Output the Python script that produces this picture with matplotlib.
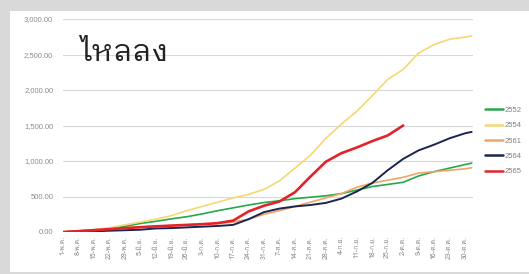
import matplotlib
matplotlib.use("Agg")
import matplotlib.pyplot as plt
from matplotlib import font_manager as fm
from matplotlib.ft2font import FT2Font
from matplotlib.patches import Rectangle

# ---------------- data ----------------
tick_labels = ["1-พ.ค.", "8-พ.ค.", "15-พ.ค.", "22-พ.ค.", "29-พ.ค.", "5-มิ.ย.", "12-มิ.ย.",
               "19-มิ.ย.", "26-มิ.ย.", "3-ก.ค.", "10-ก.ค.", "17-ก.ค.", "24-ก.ค.", "31-ก.ค.",
               "7-ส.ค.", "14-ส.ค.", "21-ส.ค.", "28-ส.ค.", "4-ก.ย.", "11-ก.ย.", "18-ก.ย.",
               "25-ก.ย.", "2-ต.ค.", "9-ต.ค.", "16-ต.ค.", "23-ต.ค.", "30-ต.ค."]
tick_days = [0, 7, 14, 21, 28, 35, 42, 49, 56, 63, 70, 77, 84, 91, 98, 105, 112,
             119, 126, 133, 140, 147, 154, 161, 168, 175, 182]

days = [0, 7, 14, 21, 28, 35, 42, 49, 56, 63, 70, 77, 84, 91, 98, 105, 112,
        119, 126, 133, 140, 147, 154, 161, 168, 175, 182, 185]

s2552 = [0, 15, 30, 50, 80, 120, 150, 185, 215, 255, 300, 340, 380, 415, 440, 470,
         490, 510, 540, 590, 640, 670, 700, 790, 850, 900, 950, 970]
s2554 = [0, 15, 35, 60, 100, 140, 180, 230, 300, 360, 420, 480, 530, 600, 720, 900,
         1080, 1320, 1520, 1700, 1920, 2150, 2290, 2520, 2640, 2715, 2745, 2760]
s2561 = [0, 15, 28, 40, 55, 68, 80, 90, 100, 110, 120, 140, 180, 250, 300, 360,
         420, 480, 540, 630, 690, 730, 770, 830, 850, 870, 890, 905]
s2564 = [0, 5, 10, 18, 25, 32, 50, 55, 65, 75, 85, 100, 180, 280, 330, 360,
         380, 410, 470, 570, 690, 870, 1030, 1150, 1230, 1320, 1390, 1410]
s2565 = [0, 12, 25, 40, 55, 68, 80, 90, 100, 110, 125, 160, 290, 370, 430, 560,
         780, 990, 1110, 1190, 1280, 1360, 1500]

series_names = ["2552", "2554", "2561", "2564", "2565"]
series_values = [s2552, s2554, s2561, s2564, s2565]
series_colors = ["#26a84c", "#f7d774", "#f0a468", "#1c2550", "#e3222b"]
series_widths = [1.2, 1.2, 1.2, 1.4, 1.9]

title_text = "ไหลลง"
y_ticks = [0, 500, 1000, 1500, 2000, 2500, 3000]


# ---------------- fonts with Thai glyphs ----------------
def thai_fonts(ch):
    cands = []
    for f in fm.fontManager.ttflist:
        try:
            ft = FT2Font(f.fname)
            if ord(ch) in ft.get_charmap():
                if f.name not in cands:
                    cands.append(f.name)
        except Exception:
            pass
    return cands

cands = thai_fonts("ไ")
plain = [c for c in cands if "Looped" not in c]
looped = [c for c in cands if "Looped" in c]
thai_tick = plain[0] if plain else (cands[0] if cands else None)
thai_title = looped[0] if looped else thai_tick

latin = "Liberation Sans"
plt.rcParams["font.family"] = [latin, "DejaVu Sans"]
tick_fam = ([thai_tick] if thai_tick else []) + [latin, "DejaVu Sans"]
title_fam = ([thai_title] if thai_title else []) + ["DejaVu Sans"]

W, H = 529, 274
fig = plt.figure(figsize=(W / 100, H / 100), dpi=100)
fig.patch.set_facecolor("#d9d9d9")
bg = Rectangle((10 / W, 2 / H), 1 - 10 / W, (272 - 9 - 2) / H,
               transform=fig.transFigure, facecolor="white",
               edgecolor="none", zorder=-10)
fig.patches.append(bg)

ax = fig.add_axes([63 / W, 1 - 232 / H, 410 / W, 213 / H])
ax.set_facecolor("none")
ax.set_zorder(1)

for name, vals, col, lw in zip(series_names, series_values, series_colors, series_widths):
    ax.plot(days[:len(vals)], vals, color=col, lw=lw, label=name,
            solid_capstyle="round", solid_joinstyle="round")

ax.set_xlim(0, 185.6)
ax.set_ylim(0, 3000)
ax.set_yticks(y_ticks)
ax.set_yticklabels([f"{v:,.2f}" for v in y_ticks], fontsize=5.5, color="#8c8c8c")
ax.set_xticks(tick_days)
ax.set_xticklabels(tick_labels, rotation=90, fontsize=5, color="#8c8c8c",
                   family=tick_fam)
ax.tick_params(axis="both", length=0)
ax.tick_params(axis="y", pad=7)
ax.tick_params(axis="x", pad=3)
ax.grid(axis="y", color="#d9d9d9", lw=0.8)
ax.set_axisbelow(True)
for s in ax.spines.values():
    s.set_visible(False)

leg = fig.legend(loc="center left", bbox_to_anchor=(481 / W, 1 - 141 / H),
                 frameon=False, fontsize=5.5, handlelength=2.4, handletextpad=0.15,
                 labelspacing=1.05, borderpad=0)
for t in leg.get_texts():
    t.set_color("#808080")
for l in leg.get_lines():
    l.set_linewidth(1.8)

fig.text(80 / W, 1 - 61 / H, title_text, fontsize=22, color="#222222", va="baseline",
         family=title_fam)

fig.savefig("out.png", dpi=100, facecolor=fig.get_facecolor())
